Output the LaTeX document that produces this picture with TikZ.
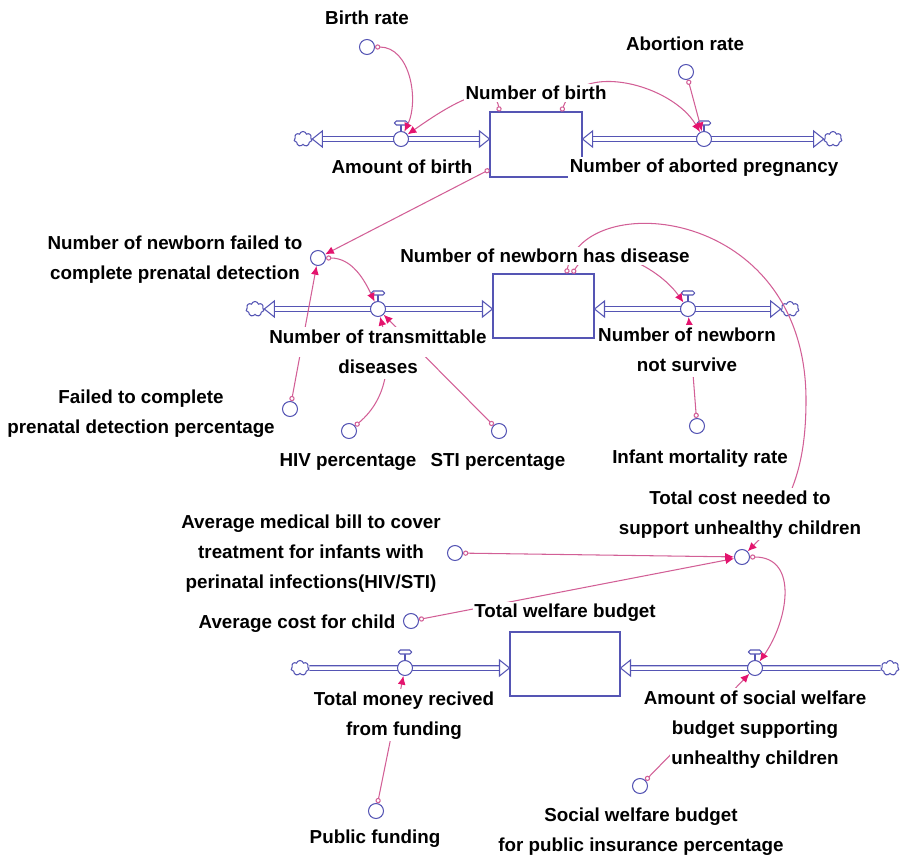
\documentclass[tikz,border=0pt]{standalone}
\usepackage{fontspec}
\setmainfont{Liberation Sans}
\usetikzlibrary{arrows.meta, shapes.symbols, calc}
\definecolor{flowblue}{RGB}{85,85,180}
\definecolor{linkpink}{RGB}{210,95,150}
\definecolor{tippink}{RGB}{228,20,110}
\tikzset{
  stock/.style={rectangle, draw=flowblue, line width=0.6pt, inner sep=0pt},
  source/.style={cloud, cloud puffs=7, cloud ignores aspect, draw=flowblue,
    fill=white, line width=0.6pt, minimum width=0.36cm, minimum height=0.3cm,
    inner sep=0pt},
  aux/.style={circle, draw=flowblue, fill=white, line width=0.6pt,
    minimum size=0.3cm, inner sep=0pt},
  pipe/.style={draw=flowblue, line width=0.6pt, double=white, double distance=2pt},
  pipetip/.style={draw=flowblue, fill=white, line width=0.6pt, line join=miter},
  link/.style={draw=linkpink, line width=0.6pt,
    {Circle[open, length=3pt, width=3pt]}-{Latex[length=5pt, width=4.5pt, color=tippink]}},
  lbl/.style={fill=white, inner sep=1pt, align=center,
    font=\fontsize{10.7pt}{17pt}\selectfont\bfseries},
  lbls/.style={inner sep=0pt, align=center,
    font=\fontsize{10.7pt}{17pt}\selectfont\bfseries}
}
% valve: name, x, y
\newcommand{\flowvalve}[3]{%
  \draw[flowblue, line width=0.6pt] (#2,#3-7) -- (#2,#3-14);
  \draw[flowblue, fill=white, line width=0.6pt, rounded corners=1pt]
    (#2-6.5,#3-14) rectangle (#2+6.5,#3-18);
  \node[aux] (#1) at (#2,#3) {};}
% hollow flow arrow head: tip, direction (1 right, -1 left)
\newcommand{\flowtip}[2]{%
  \draw[pipetip] (#1) -- ++(-10*#2,-8) -- ++(0,16) -- cycle;}
% lines of a label, on white (upper lines reach down to the next one)
\newcommand{\lblline}[1]{{\setlength{\fboxsep}{1pt}\colorbox{white}{\rule[-6.5pt]{0pt}{15pt}#1}}}
\newcommand{\lbllast}[1]{{\setlength{\fboxsep}{1pt}\colorbox{white}{\rule[-2.5pt]{0pt}{11pt}#1}}}

\begin{document}
\begin{tikzpicture}[x=0.02cm, y=-0.02cm]
  \useasboundingbox (0,0) rectangle (902,859);

  % Stocks
  \node[stock, minimum width=1.84cm, minimum height=1.3cm] (bx1) at (536,144.5) {};
  \node[stock, minimum width=2.02cm, minimum height=1.28cm] (bx2) at (543.5,306) {};
  \node[stock, minimum width=2.2cm, minimum height=1.28cm] (bx3) at (565,664) {};

  % Sources and sinks
  \node[source] (cl1a) at (303,139) {};
  \node[source] (cl1b) at (833,139) {};
  \node[source] (cl2a) at (255,309) {};
  \node[source] (cl2b) at (790,309) {};
  \node[source] (cl3a) at (300,668) {};
  \node[source] (cl3b) at (890,668) {};

  % Flow pipes
  \draw[pipe, shorten <=0.2cm, shorten >=0.2cm] (cl1a.east) -- (cl1a -| bx1.west);
  \flowtip{cl1a.east}{-1}
  \flowtip{cl1a -| bx1.west}{1}
  \draw[pipe, shorten <=0.2cm, shorten >=0.2cm] (cl1b -| bx1.east) -- (cl1b.west);
  \flowtip{cl1b -| bx1.east}{-1}
  \flowtip{cl1b.west}{1}

  \draw[pipe, shorten <=0.2cm, shorten >=0.2cm] (cl2a.east) -- (cl2a -| bx2.west);
  \flowtip{cl2a.east}{-1}
  \flowtip{cl2a -| bx2.west}{1}
  \draw[pipe, shorten <=0.2cm, shorten >=0.2cm] (cl2b -| bx2.east) -- (cl2b.west);
  \flowtip{cl2b -| bx2.east}{-1}
  \flowtip{cl2b.west}{1}

  \draw[pipe, shorten >=0.2cm] (cl3a.east) -- (cl3a -| bx3.west);
  \flowtip{cl3a -| bx3.west}{1}
  \draw[pipe, shorten >=0.2cm] (cl3b.west) -- (cl3b -| bx3.east);
  \flowtip{cl3b -| bx3.east}{-1}

  % Valves
  \flowvalve{v1}{401}{139}
  \flowvalve{v2}{704}{139}
  \flowvalve{v3}{378}{309}
  \flowvalve{v4}{688}{309}
  \flowvalve{v5}{405}{668}
  \flowvalve{v6}{755}{668}

  % Auxiliaries
  \foreach \n/\x/\y in {br/367/47, ar/686/72, nf/318/258, fcp/290/409,
      hiv/349/431, sti/499/431, imr/697/426, tc/742/557, amb/455/553,
      acc/411/621, pf/376/811, swb/640/786} {
    \node[aux] (\n) at (\x,\y) {};
  }
  \coordinate (arcR) at (806,400);

  % Links
  \draw[link] (br) to[out=0, in=65] (v1);
  \draw[link] ([xshift=0.2cm]bx1.north west) to[out=100, in=35] (v1);
  \draw[link] ([xshift=-0.42cm]bx1.north east) to[out=70, in=120] (v2);
  \draw[link] (ar) -- (v2);
  \draw[link] ([yshift=0.16cm]bx1.south west) -- (nf);
  \draw[link] (nf) to[out=0, in=115] (v3);
  \draw[link] (fcp) -- (nf);
  \draw[link] (hiv) to[out=40, in=-75] (v3);
  \draw[link] (sti) -- (v3);
  \draw[link] ([xshift=1.6cm]bx2.north west) to[out=60, in=125] (v4);
  \draw[link] (imr) -- (v4);
  \draw[link] ([xshift=1.48cm]bx2.north west) .. controls (583,188) and (806,205) .. (arcR)
    to[out=-90, in=45] (tc);
  \draw[link] (amb) -- (tc);
  \draw[link] (acc) -- (tc);
  \draw[link] (tc) to[out=0, in=55, looseness=1.2] (v6);
  \draw[link] (pf) -- (v5);
  \draw[link] (swb) -- (v6);

  % Labels
  \node[lbl] (lbr) at (367,18) {Birth rate};
  \node[lbl] (lar) at (685,44) {Abortion rate};
  \node[lbl] (lnb) at (536,93) {Number of birth};
  \node[lbl] (lab) at (402,167) {Amount of birth};
  \node[lbl] (lnap) at (704,168) {Number of aborted pregnancy};
  \node[lbls] (lnf) at (175,259) {\lblline{Number of newborn failed to}\\\lbllast{complete prenatal detection}};
  \node[lbl] (lnd) at (545,256) {Number of newborn has disease};
  \node[lbls] (lntd) at (378,353) {\lblline{Number of transmittable}\\\lbllast{diseases}};
  \node[lbls] (lnns) at (687,351) {\lblline{Number of newborn}\\\lbllast{not survive}};
  \node[lbls] (lfcp) at (141,413) {\lblline{Failed to complete}\\\lbllast{prenatal detection percentage}};
  \node[lbl] (lhiv) at (348,462) {HIV percentage};
  \node[lbl] (lsti) at (498,462) {STI percentage};
  \node[lbl] (limr) at (700,459) {Infant mortality rate};
  \node[lbls] (ltc) at (740,514) {\lblline{Total cost needed to}\\\lbllast{support unhealthy children}};
  \node[lbls] (lamb) at (311,553) {\lblline{Average medical bill to cover}\\\lblline{treatment for infants with}\\\lbllast{perinatal infections(HIV/STI)}};
  \node[lbl] (lacc) at (297,624) {Average cost for child};
  \node[lbl] (ltwb) at (565,613) {Total welfare budget};
  \node[lbls] (ltmr) at (404,715) {\lblline{Total money recived}\\\lbllast{from funding}};
  \node[lbls] (lasw) at (755,729) {\lblline{Amount of social welfare}\\\lblline{budget supporting}\\\lbllast{unhealthy children}};
  \node[lbl] (lpf) at (375,839) {Public funding};
  \node[lbls] (lswb) at (641,831) {\lblline{Social welfare budget}\\\lbllast{for public insurance percentage}};
\end{tikzpicture}
\end{document}
